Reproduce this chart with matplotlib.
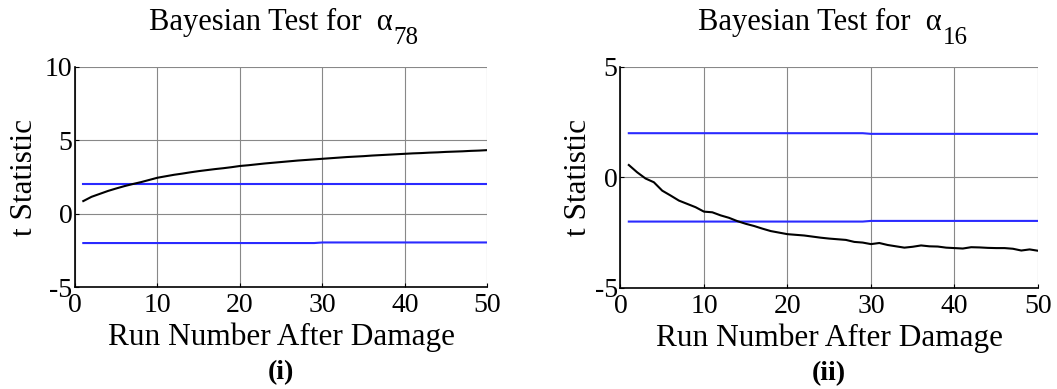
import matplotlib
import matplotlib.pyplot as plt
import numpy as np

matplotlib.use("Agg")

plt.rcParams['font.family'] = ['Liberation Serif', 'DejaVu Serif']
plt.rcParams['axes.unicode_minus'] = False

runs = np.arange(1, 51)

# t statistic for alpha_78 (panel i)
t_a78 = [0.86, 1.15, 1.35, 1.55, 1.72, 1.88, 2.02, 2.15, 2.30, 2.45,
         2.55, 2.65, 2.73, 2.82, 2.90, 2.97, 3.04, 3.10, 3.17, 3.25,
         3.30, 3.36, 3.42, 3.47, 3.52, 3.57, 3.62, 3.66, 3.70, 3.74,
         3.78, 3.82, 3.86, 3.89, 3.92, 3.96, 3.99, 4.02, 4.05, 4.08,
         4.11, 4.13, 4.16, 4.18, 4.21, 4.23, 4.25, 4.28, 4.30, 4.33]
upper_a78 = [2.0] * 50
lower_a78 = [-2.0] * 29 + [-1.96] * 21

# t statistic for alpha_16 (panel ii)
t_a16 = [0.56, 0.23, -0.05, -0.22, -0.60, -0.82, -1.05, -1.20, -1.35, -1.55,
         -1.58, -1.72, -1.83, -1.98, -2.10, -2.20, -2.32, -2.43, -2.50, -2.57,
         -2.60, -2.63, -2.68, -2.73, -2.77, -2.80, -2.83, -2.92, -2.95, -3.02,
         -2.97, -3.06, -3.12, -3.18, -3.14, -3.08, -3.12, -3.13, -3.18, -3.20,
         -3.22, -3.16, -3.17, -3.19, -3.20, -3.20, -3.23, -3.31, -3.26, -3.32]
upper_a16 = [2.0] * 29 + [1.97] * 21
lower_a16 = [-2.0] * 29 + [-1.97] * 21

panels = [
    dict(t=t_a78, up=upper_a78, lo=lower_a78, ylim=(-5, 10), yticks=[-5, 0, 5, 10],
         sub='78', tag='(i)', rect=[0.071, 0.262, 0.390, 0.566], ylab_x=0.023),
    dict(t=t_a16, up=upper_a16, lo=lower_a16, ylim=(-5, 5), yticks=[-5, 0, 5],
         sub='16', tag='(ii)', rect=[0.587, 0.260, 0.395, 0.568], ylab_x=0.547),
]

fig = plt.figure(figsize=(10.57, 3.89), dpi=100)

for p in panels:
    ax = fig.add_axes(p['rect'])
    ax.plot(runs, p['up'], color='#2a2aff', lw=1.5)
    ax.plot(runs, p['lo'], color='#2a2aff', lw=1.5)
    ax.plot(runs, p['t'], color='black', lw=1.5)

    ax.set_xlim(0, 50)
    ax.set_ylim(*p['ylim'])
    ax.set_xticks([0, 10, 20, 30, 40, 50])
    ax.set_yticks(p['yticks'])
    ax.grid(True, color='#888888', lw=0.8)
    ax.set_axisbelow(True)
    for s in ['top', 'right']:
        ax.spines[s].set_visible(False)
    for s in ['left', 'bottom']:
        ax.spines[s].set_linewidth(1.2)
    ax.tick_params(direction='in', length=3, labelsize=20)
    ax.tick_params(axis='x', pad=4.5)
    ax.tick_params(axis='y', pad=2)

    # title with a large subscript, as in the original
    main = ax.text(0.77, 1.168, 'Bayesian Test for  \u03b1', transform=ax.transAxes,
                   ha='right', va='baseline', fontsize=22)
    ax.annotate(p['sub'], xy=(1, 0), xycoords=main, xytext=(0.5, -1),
                textcoords='offset points', ha='left', va='center', fontsize=18)

    ax.set_xlabel('Run Number After Damage', fontsize=22.5, va='top')
    ax.xaxis.set_label_coords(0.5, -0.16)
    ax.text(0.5, -0.39, p['tag'], transform=ax.transAxes, ha='center', va='center',
            fontsize=20, fontweight='bold')
    fig.text(p['ylab_x'], 0.545, 't Statistic', rotation=90, ha='center', va='center',
             fontsize=22.5)

fig.savefig('out.png', dpi=100)
